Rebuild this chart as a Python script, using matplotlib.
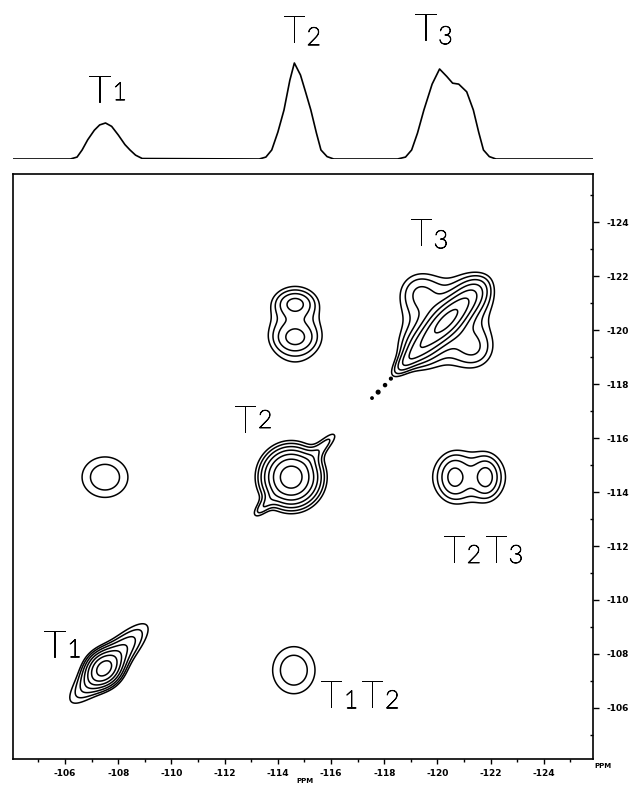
import numpy as np
import matplotlib
matplotlib.use("Agg")
import matplotlib.pyplot as plt
import matplotlib.patheffects as pe
from matplotlib.ticker import FixedLocator, FuncFormatter

# ---------------- data ----------------
# 1D projection trace (chemical shift in ppm, relative intensity; T2 = 1)
trace_ppm = [-104.0, -106.2, -106.45, -106.64, -106.85, -107.1, -107.3, -107.52, -107.75,
             -108.0, -108.25, -108.44, -108.65, -108.9, -113.3, -113.55, -113.77, -114.0,
             -114.23, -114.45, -114.62, -114.85, -115.05, -115.24, -115.45, -115.62, -115.85,
             -116.1, -118.5, -118.8, -119.03, -119.25, -119.49, -119.8, -120.08, -120.35,
             -120.57, -120.8, -121.1, -121.35, -121.55, -121.73, -121.95, -122.2, -125.9]
trace_int = [0, 0, 0.02, 0.094, 0.2, 0.3, 0.355, 0.375, 0.34,
             0.25, 0.15, 0.094, 0.04, 0.005, 0, 0.02, 0.094, 0.28,
             0.51, 0.82, 1.0, 0.875, 0.69, 0.51, 0.27, 0.094, 0.025,
             0, 0, 0.02, 0.094, 0.27, 0.51, 0.78, 0.9375, 0.86,
             0.79, 0.78, 0.70, 0.51, 0.28, 0.094, 0.025, 0, 0]

# 2D correlation map components (F2 ppm, F1 ppm, width1, width2, tilt deg, amplitude)
peak_f2 = [-107.45, -107.65,                      # T1 diagonal
           -114.5, -115.85, -113.35,               # T2 diagonal
           -120.35, -120.3, -119.25, -121.45, -119.25, -121.45, -118.75,   # T3 diagonal
           -107.5, -114.6,                         # T1/T2 cross peaks
           -114.65, -114.65, -114.65,              # T3/T2 cross peak
           -121.2, -120.6, -121.85]                # T2/T3 cross peak
peak_f1 = [-107.45, -107.65,
           -114.55, -115.85, -113.35,
           -120.35, -120.3, -119.25, -121.45, -121.45, -119.25, -118.75,
           -114.55, -107.4,
           -120.1, -121.0, -119.7,
           -114.55, -114.55, -114.55]
peak_w1 = [0.45, 1.45,
           0.73, 0.55, 0.4,
           1.0, 1.3, 0.55, 0.55, 0.55, 0.55, 0.6,
           0.92, 0.85,
           0.95, 0.5, 0.55,
           1.35, 0.38, 0.33]
peak_w2 = [0.45, 0.4,
           0.73, 0.2, 0.18,
           0.33, 1.3, 0.55, 0.55, 0.55, 0.55, 0.22,
           0.80, 0.93,
           1.35, 0.33, 0.38,
           0.95, 0.55, 0.5]
peak_tilt = [0, 45,
             0, 45, 45,
             45, 0, 0, 0, 0, 0, 45,
             0, 0,
             0, 0, 0,
             0, 0, 0]
peak_amp = [3.0, 2.6,
            5.6, 1.2, 1.1,
            3.5, 1.8, 0.9, 0.9, 0.9, 0.9, 1.2,
            1.55, 1.55,
            1.45, 1.3, 1.1,
            1.45, 1.15, 1.25]

contour_levels = [1.0, 1.3, 1.69, 2.2, 2.86, 3.7, 4.8, 6.3, 8.2]

# small artefact dots along the diagonal
dot_f2 = [-118.25, -118.03, -117.77, -117.54]
dot_f1 = [-118.2, -117.96, -117.70, -117.48]
dot_size = [4, 5, 7, 3]

major_ticks = [-106, -108, -110, -112, -114, -116, -118, -120, -122, -124]
minor_ticks = [-105, -107, -109, -111, -113, -115, -117, -119, -121, -123, -125]

# ---------------- figure ----------------
W, H = 643, 786
fig = plt.figure(figsize=(W / 100, H / 100), dpi=100)

L, R = 12.7, 593.3
ax = fig.add_axes([L / W, 1 - 759 / H, (R - L) / W, (759 - 174) / H])
axt = fig.add_axes([L / W, 1 - 159 / H, (R - L) / W, 159 / H])

XLIM = (-104.03, -125.86)
YLIM = (-104.11, -125.78)

# 1D trace
axt.plot(trace_ppm, trace_int, color="black", lw=1.2)
axt.set_xlim(*XLIM)
axt.set_ylim(0, 159 / 96)
axt.axis("off")

# 2D field
gx = np.linspace(-103.5, -126.5, 700)
gy = np.linspace(-103.5, -126.5, 700)
X, Y = np.meshgrid(gx, gy)
Z = np.zeros_like(X)
for cx, cy, w1, w2, t, a in zip(peak_f2, peak_f1, peak_w1, peak_w2, peak_tilt, peak_amp):
    th = np.deg2rad(t)
    dx, dy = X - cx, Y - cy
    u = dx * np.cos(th) + dy * np.sin(th)
    v = -dx * np.sin(th) + dy * np.cos(th)
    Z += a * np.exp(-0.5 * ((u / w1) ** 2 + (v / w2) ** 2))

ax.contour(X, Y, Z, levels=contour_levels, colors="black", linewidths=1.1)
ax.scatter(dot_f2, dot_f1, s=dot_size, color="black", zorder=3)
ax.set_xlim(*XLIM)
ax.set_ylim(*YLIM)

for sp in ax.spines.values():
    sp.set_linewidth(1.2)

fmt = FuncFormatter(lambda v, p: "%d" % int(round(v)))
ax.xaxis.set_major_locator(FixedLocator(major_ticks))
ax.xaxis.set_minor_locator(FixedLocator(minor_ticks))
ax.yaxis.set_major_locator(FixedLocator(major_ticks))
ax.yaxis.set_minor_locator(FixedLocator(minor_ticks))
ax.xaxis.set_major_formatter(fmt)
ax.yaxis.set_major_formatter(fmt)
ax.yaxis.tick_right()
ax.tick_params(axis="x", which="major", direction="out", length=3.5, width=1, pad=3.5,
               labelsize=6.5, top=False)
ax.tick_params(axis="x", which="minor", direction="out", length=2.5, width=1, top=False)
ax.tick_params(axis="y", which="major", direction="out", length=4.5, width=1, pad=5,
               labelsize=6.5, left=False, right=True)
ax.tick_params(axis="y", which="minor", direction="in", length=2.5, width=1, left=False, right=True)
for lab in ax.get_xticklabels() + ax.get_yticklabels():
    lab.set_fontweight("bold")

fig.text(594 / W, 1 - 766 / H, "PPM", fontsize=5, fontweight="bold", ha="left", va="center")
fig.text(305 / W, 1 - 781 / H, "PPM", fontsize=5, fontweight="bold", ha="center", va="center")

TFONT = dict(family=["Lato", "DejaVu Sans"], weight="light", color="black",
             path_effects=[pe.withStroke(linewidth=0.7, foreground="black")])


def tlabel(a, x_right, ytop, sub, ysb):
    """'T' ends at x_right (data units); subscript starts just after it."""
    a.text(x_right, ytop, "T", fontsize=27, ha="right", va="top", **TFONT)
    a.annotate(sub, xy=(x_right, ysb), xytext=(1.5, 0), textcoords="offset points",
               fontsize=18, ha="left", va="bottom", **TFONT)


# top panel labels (x in ppm, y in trace units)
tlabel(axt, -107.7, 0.875, "1", 0.5625)
tlabel(axt, -115.0, 1.5, "2", 1.135)
tlabel(axt, -119.95, 1.52, "3", 1.146)

# 2D labels
tlabel(ax, -113.17, -117.22, "2", -116.19)
tlabel(ax, -119.78, -124.15, "3", -122.85)
tlabel(ax, -106.0, -108.89, "1", -107.70)
tlabel(ax, -116.4, -107.04, "1", -105.81)
tlabel(ax, -117.95, -107.04, "2", -105.81)
tlabel(ax, -121.02, -112.4, "2", -111.19)
tlabel(ax, -122.6, -112.4, "3", -111.19)

fig.savefig("out.png", dpi=100)
